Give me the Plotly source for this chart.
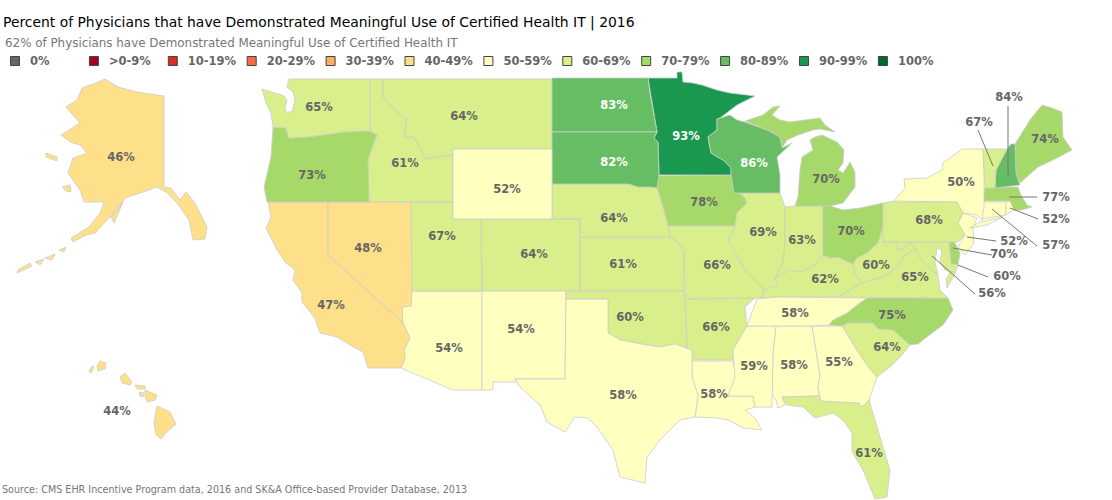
import plotly.graph_objects as go

# base map tiles are not reachable offline, so state outlines are traced from the picture
W, H = 1112, 500

TITLE = "Percent of Physicians that have Demonstrated Meaningful Use of Certified Health IT | 2016"
SUBTITLE = "62% of Physicians have Demonstrated Meaningful Use of Certified Health IT"
SOURCE = "Source: CMS EHR Incentive Program data, 2016 and SK&A Office-based Provider Database, 2013"

# legend
BIN_LABELS = ["0%", ">0-9%", "10-19%", "20-29%", "30-39%", "40-49%",
              "50-59%", "60-69%", "70-79%", "80-89%", "90-99%", "100%"]
BIN_COLORS = ["#666666", "#a50026", "#d73027", "#f46d43", "#fdae61", "#fee08b",
              "#ffffbf", "#d9ef8b", "#a6d96a", "#66bd63", "#1a9850", "#006837"]

# values
STATES = ["AK", "AL", "AR", "AZ", "CA", "CO", "CT", "DC", "DE", "FL", "GA", "HI", "IA",
          "ID", "IL", "IN", "KS", "KY", "LA", "MA", "MD", "ME", "MI", "MN", "MO", "MS",
          "MT", "NC", "ND", "NE", "NH", "NJ", "NM", "NV", "NY", "OH", "OK", "OR", "PA",
          "RI", "SC", "SD", "TN", "TX", "UT", "VA", "VT", "WA", "WI", "WV", "WY"]
PERCENT = [46, 58, 66, 54, 47, 64, 57, 56, 70, 61, 55, 44, 78,
           61, 69, 63, 61, 62, 58, 77, 60, 74, 70, 93, 66, 59,
           64, 75, 83, 64, 84, 52, 54, 48, 50, 70, 60, 73, 68,
           52, 64, 82, 58, 58, 67, 65, 67, 65, 86, 60, 52]

# where each percent label sits on the map
LABEL_X = [121, 794, 716, 449, 331, 534, 1056, 992, 1004, 869, 839, 117, 704,
           405, 763, 802, 623, 825, 714, 1056, 1007, 1045, 826, 686, 717, 754,
           464, 892, 614, 614, 1009, 1014, 521, 368, 961, 851, 630, 312, 929,
           1056, 887, 614, 795, 623, 442, 915, 979, 319, 754, 876, 507]
LABEL_Y = [157, 365, 327, 348, 305, 254, 245, 293, 254, 453, 362, 411, 202,
           163, 232, 240, 264, 279, 394, 197, 276, 139, 179, 136, 265, 366,
           116, 315, 105, 218, 97, 241, 329, 248, 182, 231, 317, 175, 220,
           219, 347, 162, 313, 395, 236, 277, 122, 107, 163, 265, 189]
WHITE_LABELS = ["ND", "SD", "MN", "WI"]

# leader lines for the small north-eastern states: label end, state end
LEADERS = {
    "NH": [(1008, 106), (1008, 177)],
    "VT": [(978, 130), (993, 166)],
    "MA": [(1037, 197), (1009, 197)],
    "RI": [(1038, 219), (1010, 208)],
    "CT": [(1037, 246), (992, 209)],
    "NJ": [(996, 241), (967, 237)],
    "DE": [(992, 255), (953, 248)],
    "MD": [(988, 277), (958, 265)],
    "DC": [(975, 294), (932, 256)],
}

# state outlines, one list per island / part
SHAPES = {
    "WA": [[(289, 79), (370, 79), (370, 131), (343, 132), (323, 135), (307, 137), (289, 138), (286, 128),
            (273, 127), (271, 113), (266, 103), (262, 89), (275, 93), (284, 96), (287, 100), (285, 108),
            (286, 112), (292, 112), (295, 100), (293, 92), (287, 87)]],
    "OR": [[(273, 127), (286, 128), (289, 138), (307, 137), (323, 135), (343, 132), (370, 131), (377, 135),
            (373, 145), (368, 160), (369, 202), (267, 202), (264, 187), (271, 157)]],
    "ID": [[(370, 79), (383, 79), (383, 97), (395, 110), (407, 120), (404, 137), (414, 137), (425, 159),
            (450, 155), (453, 155), (453, 202), (369, 202), (368, 160), (373, 145), (377, 135), (370, 131)]],
    "MT": [[(383, 79), (552, 79), (552, 149), (453, 149), (453, 155), (450, 155), (425, 159), (414, 137),
            (404, 137), (407, 120), (395, 110), (383, 97)]],
    "WY": [[(453, 149), (552, 149), (552, 219), (453, 219)]],
    "ND": [[(552, 78), (648, 78), (650, 93), (657, 132), (552, 132)]],
    "SD": [[(552, 132), (657, 132), (654, 138), (658, 142), (659, 175), (657, 188), (650, 187), (638, 187),
            (629, 184), (552, 184)]],
    "MN": [[(648, 78), (677, 78), (677, 72), (682, 72), (683, 82), (693, 83), (702, 85), (717, 90), (730, 93),
            (755, 96), (737, 105), (720, 118), (717, 119), (717, 130), (708, 137), (711, 153), (723, 160),
            (731, 168), (731, 175), (659, 175), (658, 142), (654, 138), (657, 132), (650, 93)]],
    "WI": [[(717, 119), (730, 115), (737, 120), (745, 122), (767, 130), (780, 137), (782, 148), (792, 143),
            (777, 157), (778, 165), (780, 175), (780, 193), (734, 193), (733, 187), (731, 175), (731, 168),
            (723, 160), (711, 153), (708, 137), (717, 130)]],
    "MI": [[(745, 121), (763, 115), (773, 107), (780, 106), (772, 115), (780, 120), (790, 122), (820, 118),
            (825, 125), (835, 132), (820, 129), (813, 130), (798, 135), (787, 140), (782, 148), (780, 137),
            (767, 130)],
           [(815, 137), (822, 135), (837, 142), (844, 150), (843, 163), (838, 170), (843, 173), (850, 162),
            (855, 172), (855, 187), (843, 203), (830, 206), (795, 206), (798, 197), (800, 170), (802, 157),
            (813, 150), (810, 140)]],
    "IA": [[(657, 176), (731, 175), (733, 187), (745, 198), (747, 203), (737, 213), (735, 226), (668, 226),
            (663, 207), (657, 188)]],
    "IL": [[(734, 193), (780, 193), (785, 207), (785, 245), (783, 262), (775, 278), (778, 285), (767, 296),
            (760, 285), (745, 270), (730, 245), (728, 240), (735, 226), (737, 213), (747, 203), (745, 198),
            (733, 187)]],
    "IN": [[(785, 207), (795, 206), (823, 206), (823, 255), (815, 265), (800, 272), (790, 270), (775, 278),
            (783, 262), (785, 245)]],
    "OH": [[(823, 206), (830, 206), (843, 210), (860, 208), (883, 203), (883, 227), (878, 243), (867, 253),
            (857, 258), (853, 264), (848, 262), (838, 257), (830, 258), (823, 255)]],
    "KY": [[(775, 278), (790, 270), (800, 272), (815, 265), (823, 255), (830, 258), (838, 257), (848, 262),
            (853, 264), (855, 273), (862, 283), (838, 297), (777, 297), (762, 298), (764, 290), (778, 285)]],
    "WV": [[(853, 264), (857, 258), (867, 253), (878, 243), (883, 227), (883, 242), (897, 242), (898, 251),
            (912, 243), (915, 248), (903, 257), (898, 267), (883, 277), (870, 280), (862, 283), (855, 273)]],
    "MD": [[(883, 242), (949, 242), (951, 264), (958, 265), (955, 273), (945, 270), (940, 262), (942, 250),
            (937, 248), (935, 262), (938, 275), (930, 268), (920, 258), (915, 248), (912, 243), (898, 251),
            (897, 242)]],
    "DC": [[(930, 255), (934, 256), (933, 259), (930, 258)]],
    "VA": [[(838, 297), (862, 283), (870, 280), (883, 277), (898, 267), (903, 257), (915, 248), (920, 258),
            (930, 268), (938, 275), (940, 290), (948, 298)],
           [(950, 272), (956, 272), (947, 288), (946, 280)]],
    "DE": [[(949, 241), (954, 241), (960, 253), (958, 265), (951, 264)]],
    "NC": [[(867, 298), (948, 298), (953, 310), (943, 325), (932, 333), (918, 344), (908, 345), (893, 330),
            (878, 329), (873, 323), (847, 323), (842, 326), (829, 325), (833, 320), (847, 313), (857, 305)]],
    "SC": [[(843, 327), (847, 323), (873, 323), (878, 329), (893, 330), (910, 345), (902, 355), (890, 367),
            (877, 377), (867, 365), (857, 350)]],
    "GA": [[(812, 326), (842, 326), (857, 350), (867, 365), (877, 377), (869, 400), (862, 407), (859, 403),
            (821, 401), (818, 387), (820, 375)]],
    "FL": [[(782, 397), (819, 396), (821, 401), (859, 403), (862, 407), (869, 400), (880, 437), (890, 470),
            (887, 497), (875, 499), (863, 470), (852, 452), (852, 433), (843, 420), (833, 413), (815, 418),
            (803, 407), (787, 405)]],
    "AL": [[(776, 326), (812, 326), (820, 375), (818, 387), (819, 396), (782, 397), (785, 405), (778, 408),
            (776, 400), (772, 395), (773, 353)]],
    "MS": [[(747, 326), (776, 326), (773, 353), (772, 395), (772, 407), (755, 407), (753, 396), (728, 396),
            (735, 377), (733, 350)]],
    "TN": [[(777, 297), (867, 298), (857, 305), (847, 313), (833, 320), (829, 325), (812, 326), (747, 326),
            (757, 299)]],
    "AR": [[(685, 299), (755, 298), (745, 307), (747, 326), (733, 350), (733, 360), (692, 360), (692, 350),
            (687, 348)]],
    "LA": [[(692, 361), (733, 361), (736, 377), (728, 396), (753, 396), (755, 407), (745, 410), (755, 418),
            (760, 427), (762, 430), (743, 428), (728, 420), (717, 418), (695, 417), (698, 395), (692, 377)]],
    "TX": [[(566, 299), (608, 299), (608, 333), (620, 340), (647, 345), (660, 347), (675, 344), (692, 350),
            (692, 377), (698, 395), (695, 417), (680, 420), (660, 440), (647, 457), (645, 483), (620, 477),
            (613, 450), (597, 427), (588, 418), (575, 417), (565, 432), (547, 422), (540, 405), (520, 387),
            (515, 379), (565, 379)]],
    "NM": [[(482, 291), (566, 291), (565, 379), (515, 379), (517, 382), (493, 382), (493, 390), (482, 390)]],
    "AZ": [[(412, 291), (482, 291), (482, 390), (453, 390), (401, 368), (405, 358), (404, 350), (410, 338),
            (403, 323), (402, 307), (411, 306)]],
    "NV": [[(328, 202), (411, 202), (412, 291), (411, 306), (402, 307), (403, 323), (328, 255)]],
    "CA": [[(268, 202), (328, 202), (328, 255), (403, 323), (410, 338), (404, 350), (405, 358), (401, 368),
            (368, 368), (363, 352), (350, 345), (337, 337), (320, 333), (315, 318), (302, 302), (302, 293),
            (293, 280), (295, 270), (286, 263), (277, 250), (266, 228), (271, 217)]],
    "UT": [[(411, 202), (453, 202), (453, 219), (481, 219), (482, 291), (412, 291)]],
    "CO": [[(481, 219), (580, 219), (580, 291), (482, 291)]],
    "NE": [[(552, 184), (629, 184), (638, 187), (650, 187), (657, 188), (663, 207), (668, 226), (670, 237),
            (580, 237), (580, 219), (552, 219)]],
    "KS": [[(580, 237), (670, 237), (678, 242), (684, 252), (684, 291), (580, 291)]],
    "OK": [[(566, 291), (684, 291), (685, 299), (687, 348), (675, 344), (660, 347), (647, 345), (620, 340),
            (608, 333), (608, 299), (566, 299)]],
    "MO": [[(668, 226), (735, 226), (728, 240), (732, 247), (745, 270), (760, 285), (764, 290), (762, 298),
            (755, 298), (685, 299), (684, 252), (678, 242), (670, 237)]],
    "PA": [[(883, 203), (894, 201), (894, 202), (957, 202), (963, 213), (958, 223), (965, 235), (958, 242),
            (883, 242)]],
    "NY": [[(894, 201), (905, 188), (904, 179), (927, 178), (942, 170), (943, 163), (962, 149), (983, 149),
            (984, 173), (984, 207), (982, 220), (977, 215), (963, 213), (957, 202)],
           [(970, 228), (980, 222), (1003, 217), (987, 225)]],
    "NJ": [[(963, 213), (977, 218), (973, 228), (974, 243), (965, 255), (958, 247), (965, 235), (958, 223)]],
    "CT": [[(981, 202), (1006, 202), (1006, 215), (982, 219)]],
    "RI": [[(1006, 202), (1010, 201), (1014, 210), (1006, 215)]],
    "MA": [[(985, 188), (1018, 187), (1021, 195), (1027, 205), (1032, 207), (1022, 210), (1014, 210),
            (1010, 201), (982, 201)]],
    "VT": [[(983, 149), (1007, 149), (996, 170), (995, 188), (985, 188), (984, 173)]],
    "NH": [[(1007, 149), (1011, 144), (1015, 144), (1016, 173), (1020, 185), (995, 188), (996, 170)]],
    "ME": [[(1015, 144), (1030, 120), (1042, 105), (1052, 108), (1062, 112), (1063, 137), (1072, 150),
            (1053, 160), (1038, 167), (1020, 183), (1016, 173)]],
    "AK": [[(105, 79), (118, 87), (137, 92), (164, 96), (164, 187), (171, 188), (180, 200), (186, 192),
            (195, 203), (207, 227), (205, 239), (193, 240), (189, 220), (177, 203), (166, 192), (157, 187),
            (143, 192), (125, 198), (118, 210), (107, 220), (95, 233), (86, 235), (73, 242), (71, 238),
            (89, 227), (100, 213), (104, 202), (84, 202), (80, 190), (68, 173), (73, 158), (87, 153),
            (80, 145), (70, 142), (61, 135), (80, 123), (71, 113), (66, 107), (77, 100), (82, 88), (96, 83)],
           [(123, 202), (114, 223), (111, 217), (118, 205)],
           [(46, 153), (57, 157), (57, 161), (46, 157)],
           [(62, 187), (70, 185), (71, 192), (66, 191)],
           [(59, 250), (66, 247), (64, 252)],
           [(45, 258), (55, 254), (52, 260)],
           [(35, 262), (44, 259), (40, 265)],
           [(18, 270), (30, 263), (32, 266), (17, 273)]],
    "HI": [[(157, 406), (170, 412), (176, 424), (167, 432), (161, 439), (156, 435), (154, 422)],
           [(145, 390), (157, 395), (155, 400), (147, 402), (145, 396)],
           [(135, 385), (145, 386), (145, 389), (137, 389)],
           [(139, 392), (144, 393), (143, 397), (140, 396)],
           [(125, 373), (132, 382), (130, 385), (122, 383), (120, 377)],
           [(100, 361), (106, 363), (105, 369), (98, 371), (97, 366)],
           [(92, 366), (94, 367), (91, 373), (89, 371)]],
}

FONT = "DejaVu Sans"
GREY = "#666666"
TEXT_NUDGE = 1.5  # text trace sits a little high of its point


def bin_color(value):
    if value == 0:
        return BIN_COLORS[0]
    if value == 100:
        return BIN_COLORS[-1]
    return BIN_COLORS[value // 10 + 1]


def ring_xy(parts):
    xs, ys = [], []
    for part in parts:
        closed = part + [part[0]]
        xs += [p[0] for p in closed] + [None]
        ys += [p[1] for p in closed] + [None]
    return xs, ys


fig = go.Figure()

# states
for state, value in zip(STATES, PERCENT):
    xs, ys = ring_xy(SHAPES[state])
    fig.add_trace(go.Scatter(x=xs, y=ys, mode="lines", fill="toself", fillcolor=bin_color(value),
                             line=dict(color="#cccccc", width=0.8), name=state, showlegend=False,
                             text="%s: %d%%" % (state, value), hoverinfo="text", hoveron="fills"))

# leader lines
for state, ends in LEADERS.items():
    fig.add_trace(go.Scatter(x=[e[0] for e in ends], y=[e[1] for e in ends], mode="lines",
                             line=dict(color="#777777", width=1), showlegend=False, hoverinfo="skip"))

# percent labels
fig.add_trace(go.Scatter(x=LABEL_X, y=[y + TEXT_NUDGE for y in LABEL_Y], mode="text",
                         showlegend=False, hoverinfo="skip",
                         text=["%d%%" % v for v in PERCENT],
                         textfont=dict(family=FONT, size=11.5, weight="bold",
                                       color=["#ffffff" if s in WHITE_LABELS else GREY for s in STATES])))

# legend row
key_x = [15 + 78.9 * i for i in range(len(BIN_LABELS))]
key_y = [61] * len(BIN_LABELS)
fig.add_trace(go.Scatter(x=key_x, y=key_y, mode="markers", showlegend=False, hoverinfo="skip",
                         marker=dict(symbol="square", size=9, color=BIN_COLORS,
                                     line=dict(color="#444444", width=1))))
fig.add_trace(go.Scatter(x=[k + 15 for k in key_x], y=[y + TEXT_NUDGE for y in key_y], mode="text",
                         showlegend=False, hoverinfo="skip",
                         text=BIN_LABELS, textposition="middle right",
                         textfont=dict(family=FONT, size=11.5, weight="bold", color=GREY)))

fig.update_xaxes(range=[0, W], visible=False, fixedrange=True)
fig.update_yaxes(range=[H, 0], visible=False, fixedrange=True)
fig.update_layout(
    width=W, height=H,
    margin=dict(l=0, r=0, t=0, b=0),
    plot_bgcolor="white", paper_bgcolor="white",
    font=dict(family=FONT),
    title=dict(text=TITLE, x=3 / W, y=1 - 22 / H, xanchor="left", yanchor="middle",
               font=dict(family=FONT, size=13.9, color="#000000")),
    annotations=[
        dict(text=SUBTITLE, x=3, y=42.5, xref="x", yref="y", xanchor="left", yanchor="middle",
             showarrow=False, font=dict(family=FONT, size=11.9, color="#777777")),
        dict(text=SOURCE, x=0, y=489, xref="x", yref="y", xanchor="left", yanchor="middle",
             showarrow=False, font=dict(family=FONT, size=9.6, color="#777777")),
    ],
)

# the page's default 8px body margin would push the whole map off its place
fig.write_html("out.html", config={"displayModeBar": False},
               post_script="document.body.style.margin = '0';")
